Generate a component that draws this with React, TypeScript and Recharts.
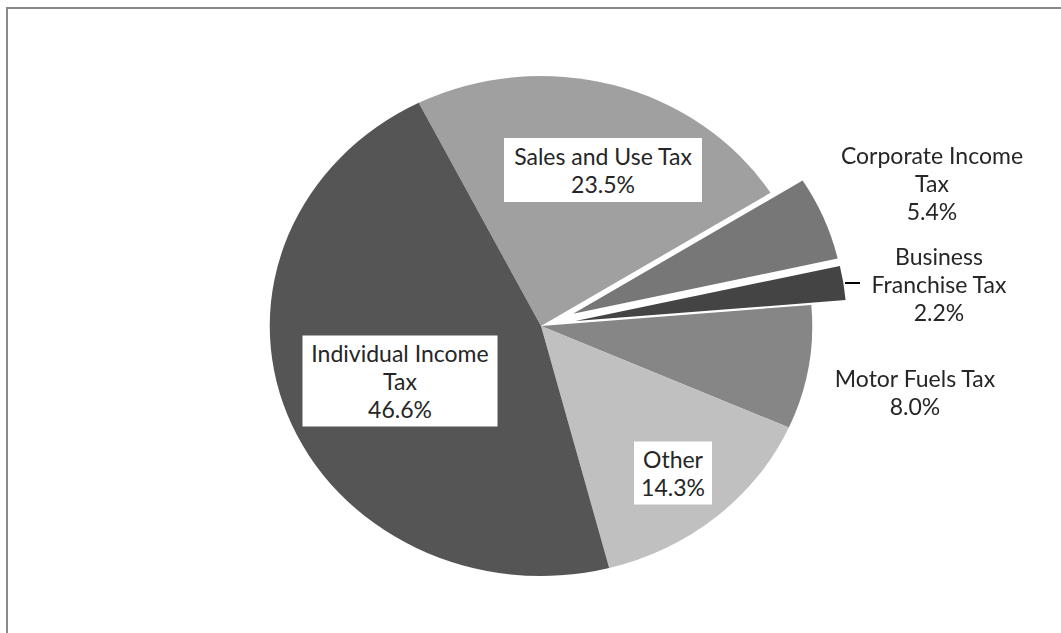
import React from "react";
import { PieChart, Pie, Cell } from "recharts";

// revenue shares, clockwise from the Sales slice
const categories = [
  "Sales and Use Tax",
  "Corporate Income Tax",
  "Business Franchise Tax",
  "Motor Fuels Tax",
  "Other",
  "Individual Income Tax",
];
const shares = [23.5, 5.4, 2.2, 8.0, 14.3, 46.6];
const labelLines = [
  ["Sales and Use Tax"],
  ["Corporate Income", "Tax"],
  ["Business", "Franchise Tax"],
  ["Motor Fuels Tax"],
  ["Other"],
  ["Individual Income", "Tax"],
];
const exploded = [false, true, true, false, false, false];

const colors = ["#a0a0a0", "#777777", "#444444", "#868686", "#c0c0c0", "#555555"];

// label placement (screen px) relative to the pie centre
const labelStyle = [
  { dx: 62, dy: -156, box: [198, 64] },
  { dx: 391, dy: -143, box: null },
  { dx: 398, dy: -42, box: null, leader: [304, 319] },
  { dx: 374, dy: 66, box: null },
  { dx: 132, dy: 147, box: [78, 63] },
  { dx: -141, dy: 55, box: [195, 91] },
];

const W = 1061;
const H = 633;
// the original picture is stretched sideways, so the pie is drawn round and widened
const SX = 1.085;
const CX = 541 / SX;
const CY = 326;
const R = 250;
const START = 116.8;
const EXPLODE = 32;
const LINE_H = 28;
const FONT = "Lato, 'Open Sans', sans-serif";

const data = categories.map((name, i) => ({ name, value: shares[i] }));

function explodeOffset(idx: number) {
  const total = shares.reduce((a, b) => a + b, 0);
  const before = shares.slice(0, idx).reduce((a, b) => a + b, 0);
  const mid = START - ((before + shares[idx] / 2) / total) * 360;
  const rad = (mid * Math.PI) / 180;
  return { x: EXPLODE * Math.cos(rad), y: -EXPLODE * Math.sin(rad) };
}

const renderLabel = (props: any) => {
  const { cx, cy, index } = props;
  const st = labelStyle[index];
  const lines = [...labelLines[index], `${shares[index].toFixed(1)}%`];
  return (
    <g key={`lbl-${index}`} transform={`translate(${cx},${cy}) scale(${1 / SX},1)`}>
      {st.box && (
        <rect
          x={st.dx - st.box[0] / 2}
          y={st.dy - st.box[1] / 2}
          width={st.box[0]}
          height={st.box[1]}
          fill="#ffffff"
        />
      )}
      {st.leader && (
        <line
          x1={st.leader[0]}
          x2={st.leader[1]}
          y1={st.dy - 1}
          y2={st.dy - 1}
          stroke="#000"
          strokeWidth={2}
        />
      )}
      {lines.map((t, k) => (
        <text
          key={k}
          x={st.dx}
          y={st.dy + (k - (lines.length - 1) / 2) * LINE_H}
          textAnchor="middle"
          dominantBaseline="central"
          fontFamily={FONT}
          fontSize={23}
          fill="#262626"
        >
          {t}
        </text>
      ))}
    </g>
  );
};

export default function App() {
  return (
    <div
      style={{
        position: "absolute",
        left: 0,
        top: 0,
        width: W,
        height: H,
        overflow: "hidden",
        background: "#fff",
      }}
    >
      <div
        style={{
          position: "absolute",
          left: 6,
          top: 7,
          width: W + 20,
          height: H + 20,
          borderTop: "2px solid #898989",
          borderLeft: "2px solid #898989",
        }}
      />
      <div
        style={{
          position: "absolute",
          left: 0,
          top: 0,
          transform: `scale(${SX},1)`,
          transformOrigin: "0 0",
        }}
      >
        <PieChart
          width={Math.ceil(W / SX)}
          height={H}
          margin={{ top: 0, right: 0, bottom: 0, left: 0 }}
        >
          <Pie
            data={data}
            dataKey="value"
            nameKey="name"
            cx={CX}
            cy={CY}
            outerRadius={R}
            startAngle={START}
            endAngle={START - 360}
            stroke="none"
            labelLine={false}
            label={renderLabel}
            isAnimationActive={false}
          >
            {data.map((d, i) => (
              <Cell key={d.name} fill={exploded[i] ? "none" : colors[i]} />
            ))}
          </Pie>
          {exploded.map((ex, idx) => {
            if (!ex) return null;
            const off = explodeOffset(idx);
            return (
              <Pie
                key={`ex-${idx}`}
                data={data}
                dataKey="value"
                nameKey="name"
                cx={CX + off.x}
                cy={CY + off.y}
                outerRadius={R}
                startAngle={START}
                endAngle={START - 360}
                stroke="none"
                isAnimationActive={false}
              >
                {data.map((d, i) => (
                  <Cell key={d.name} fill={i === idx ? colors[i] : "none"} />
                ))}
              </Pie>
            );
          })}
        </PieChart>
      </div>
    </div>
  );
}
